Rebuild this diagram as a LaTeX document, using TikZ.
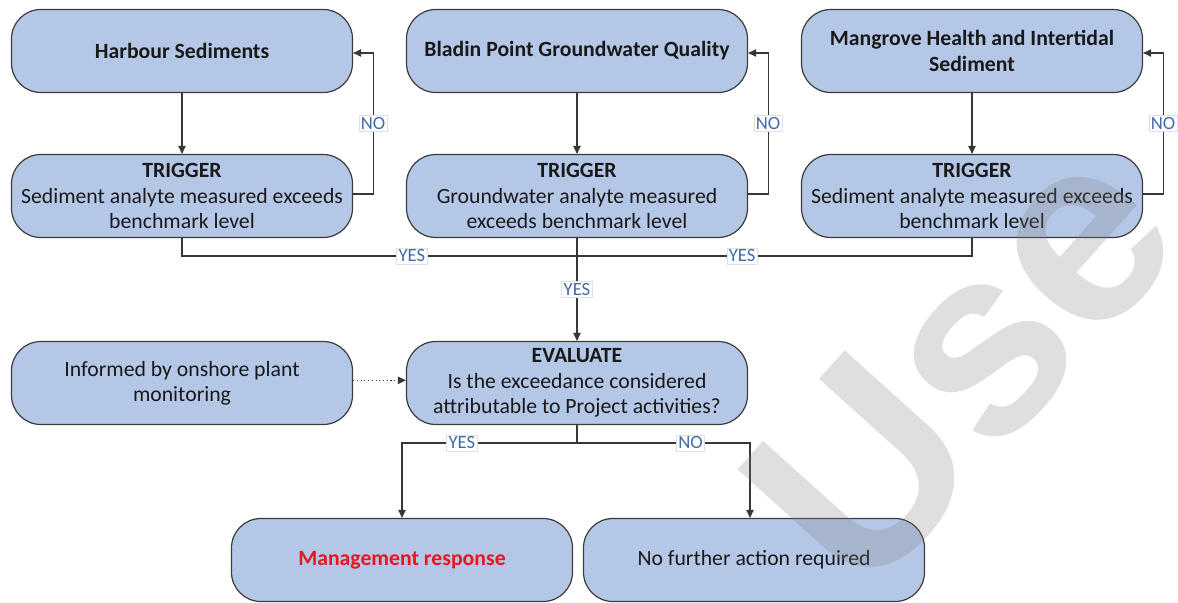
\documentclass[tikz,border=0pt]{standalone}
\usepackage{fontspec}
\setmainfont{Carlito}
\newfontfamily\wmfont{Liberation Sans}
\usetikzlibrary{arrows.meta,calc}
\definecolor{boxfill}{RGB}{180,199,231}
\definecolor{boxline}{RGB}{60,60,60}
\definecolor{lblblue}{RGB}{68,105,170}
\definecolor{linkgray}{RGB}{55,55,55}
\tikzset{
  box/.style={draw=boxline, fill=boxfill, rounded corners=22pt, line width=0.9pt,
    minimum width=255.75pt, minimum height=62.25pt, align=center, inner sep=2pt,
    font=\fontsize{16.3}{18.9}\selectfont, text=black!90},
  conn/.style={draw=linkgray, line width=0.8pt},
  tip/.style={-{Triangle[length=6pt,width=5.5pt]}},
  lbl/.style={fill=white, draw=black!12, line width=0.4pt, text=lblblue, inner sep=1.5pt,
    font=\fontsize{14}{15}\selectfont},
}
\begin{document}
\begin{tikzpicture}[x=0.75pt,y=-0.75pt]
\useasboundingbox (0,0) rectangle (1178,603);
\fill[white] (0,0) rectangle (1178,603);

% sources
\node[box] (hs) at (182,51) {\bfseries Harbour Sediments};
\node[box] (bp) at (577,51) {\bfseries Bladin Point Groundwater Quality};
\node[box] (mg) at (972,51) {\bfseries Mangrove Health and Intertidal\\\bfseries Sediment};

% triggers
\node[box] (t1) at (182,196) {\textbf{TRIGGER}\\Sediment analyte measured exceeds\\benchmark level};
\node[box] (t2) at (577,196) {\textbf{TRIGGER}\\Groundwater analyte measured\\exceeds benchmark level};
\node[box] (t3) at (972,196) {\textbf{TRIGGER}\\Sediment analyte measured exceeds\\benchmark level};

% evaluation
\node[box] (inf) at (182,383) {Informed by onshore plant\\monitoring};
\node[box] (ev) at (577,383) {\textbf{EVALUATE}\\Is the exceedance considered\\attributable to Project activities?};

% outcomes
\node[box] (mr) at (402,560) {\bfseries\color[RGB]{235,20,30}Management response};
\node[box] (nf) at (754,560) {No further action required};

% junction points
\coordinate (j) at (577,256);
\coordinate (k) at (577,443);

% source -> trigger
\draw[conn,tip] (hs) -- (t1);
\draw[conn,tip] (bp) -- (t2);
\draw[conn,tip] (mg) -- (t3);

% NO loops back to each source
\draw[conn,tip] ([yshift=1.5pt]t1.east) -- ++(20,0) |- node[lbl,pos=0.25]{NO} ([yshift=-1.5pt]hs.east);
\draw[conn,tip] ([yshift=1.5pt]t2.east) -- ++(20,0) |- node[lbl,pos=0.25]{NO} ([yshift=-1.5pt]bp.east);
\draw[conn,tip] ([yshift=1.5pt]t3.east) -- ++(20,0) |- node[lbl,pos=0.25]{NO} ([yshift=-1.5pt]mg.east);

% YES branches merge
\draw[conn] (t1.south) |- node[lbl,pos=0.791]{YES} (j);
\draw[conn] (t3.south) |- node[lbl,pos=0.791]{YES} (j);
\draw[conn,tip] (t2.south) -- node[lbl]{YES} (ev.north);

% supporting input
\draw[conn,dotted,tip] ([yshift=2pt]inf.east) -- ([yshift=2pt]ev.west);

% decision
\draw[conn] (ev.south) -- (k);
\draw[conn,tip] (k) -| node[lbl,pos=0.329]{YES} (mr.north);
\draw[conn,tip] (k) -| node[lbl,pos=0.328]{NO} ([xshift=-3pt]nf.north);

% watermark
\begin{scope}
\clip (0,0) rectangle (1178,603);
\node[rotate=48, text=black!50, opacity=0.25, inner sep=0pt,
  font=\wmfont\bfseries\fontsize{200}{200}\selectfont] at (960,362) {Use};
\end{scope}
\end{tikzpicture}
\end{document}
